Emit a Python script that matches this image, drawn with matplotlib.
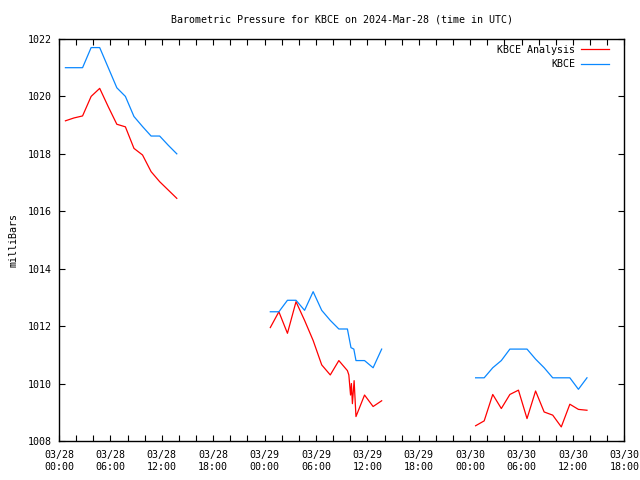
import datetime as dt
import matplotlib
matplotlib.use("Agg")
import matplotlib.pyplot as plt
import matplotlib.dates as mdates

plt.rcParams["font.family"] = "DejaVu Sans Mono"
plt.rcParams["font.size"] = 7.2

# observation times (HH:MM) per day, and values
day1 = dt.datetime(2024, 3, 28)
day2 = dt.datetime(2024, 3, 29)
day3 = dt.datetime(2024, 3, 30)

times1 = ["00:45", "01:45", "02:45", "03:45", "04:45", "05:45", "06:45",
          "07:45", "08:45", "09:45", "10:45", "11:45", "12:45", "13:45"]
obs1 = [1021.0, 1021.0, 1021.0, 1021.7, 1021.7, 1021.0, 1020.3,
        1020.0, 1019.3, 1018.95, 1018.62, 1018.62, 1018.3, 1018.0]
ana1 = [1019.15, 1019.25, 1019.32, 1020.0, 1020.28, 1019.64, 1019.03,
        1018.94, 1018.19, 1017.96, 1017.38, 1017.03, 1016.74, 1016.45]

times2_obs = ["00:40", "01:40", "02:40", "03:40", "04:40", "05:40", "06:40",
              "07:40", "08:40", "09:40", "10:05", "10:25", "10:40", "11:40",
              "12:40", "13:40"]
obs2 = [1012.5, 1012.5, 1012.9, 1012.9, 1012.55, 1013.2, 1012.55,
        1012.2, 1011.9, 1011.9, 1011.25, 1011.2, 1010.8, 1010.8,
        1010.55, 1011.2]
times2_ana = ["00:40", "01:40", "02:40", "03:40", "04:40", "05:40", "06:40",
              "07:40", "08:40", "09:40", "09:50", "10:02", "10:08", "10:15",
              "10:27", "10:40", "11:40", "12:40", "13:40"]
ana2 = [1011.95, 1012.5, 1011.75, 1012.85, 1012.2, 1011.5, 1010.65,
        1010.3, 1010.8, 1010.45, 1010.3, 1009.6, 1010.0, 1009.3,
        1010.1, 1008.85, 1009.6, 1009.2, 1009.4]

times3 = ["00:38", "01:38", "02:38", "03:38", "04:38", "05:38", "06:38",
          "07:38", "08:38", "09:38", "10:38", "11:38", "12:38", "13:38"]
obs3 = [1010.2, 1010.2, 1010.55, 1010.8, 1011.2, 1011.2, 1011.2,
        1010.85, 1010.55, 1010.2, 1010.2, 1010.2, 1009.8, 1010.2]
ana3 = [1008.53, 1008.70, 1009.62, 1009.13, 1009.62, 1009.77, 1008.78,
        1009.74, 1009.01, 1008.90, 1008.49, 1009.28, 1009.10, 1009.07]


def to_dt(day, hhmm):
    h, m = hhmm.split(":")
    return day + dt.timedelta(hours=int(h), minutes=int(m))


red = "#ff0000"
blue = "#0a88ff"

fig = plt.figure(figsize=(6.4, 4.8), dpi=100)
ax = fig.add_axes([0.0922, 0.0813, 0.8834, 0.8375])

segments = [
    (day1, times1, ana1, times1, obs1),
    (day2, times2_ana, ana2, times2_obs, obs2),
    (day3, times3, ana3, times3, obs3),
]
for i, (day, ta, a, to, o) in enumerate(segments):
    ax.plot([to_dt(day, t) for t in ta], a, color=red, lw=0.9,
            label="KBCE Analysis" if i == 0 else None)
    ax.plot([to_dt(day, t) for t in to], o, color=blue, lw=0.9,
            label="KBCE" if i == 0 else None)

ax.set_xlim(day1, day1 + dt.timedelta(hours=66))
ax.set_ylim(1008, 1022)
ax.set_yticks(range(1008, 1023, 2))

ax.xaxis.set_major_locator(mdates.HourLocator(byhour=[0, 6, 12, 18]))
ax.xaxis.set_minor_locator(mdates.HourLocator(byhour=range(0, 24, 2)))
ax.xaxis.set_major_formatter(mdates.DateFormatter("%m/%d\n%H:%M"))

ax.tick_params(which="both", direction="in", top=True, right=True,
               length=4, width=0.8, pad=5)
ax.tick_params(axis="x", pad=6.5)
for s in ax.spines.values():
    s.set_linewidth(1.0)

ax.set_ylabel("milliBars", labelpad=7)
ax.set_title("Barometric Pressure for KBCE on 2024-Mar-28 (time in UTC)",
             fontsize=7.2, pad=12)

ax.legend(loc="upper right", bbox_to_anchor=(0.9805, 0.995),
          frameon=False, markerfirst=False,
          handlelength=2.8, handletextpad=0.6, labelspacing=0.45,
          borderaxespad=0.0)

fig.savefig("out.png", dpi=100)
